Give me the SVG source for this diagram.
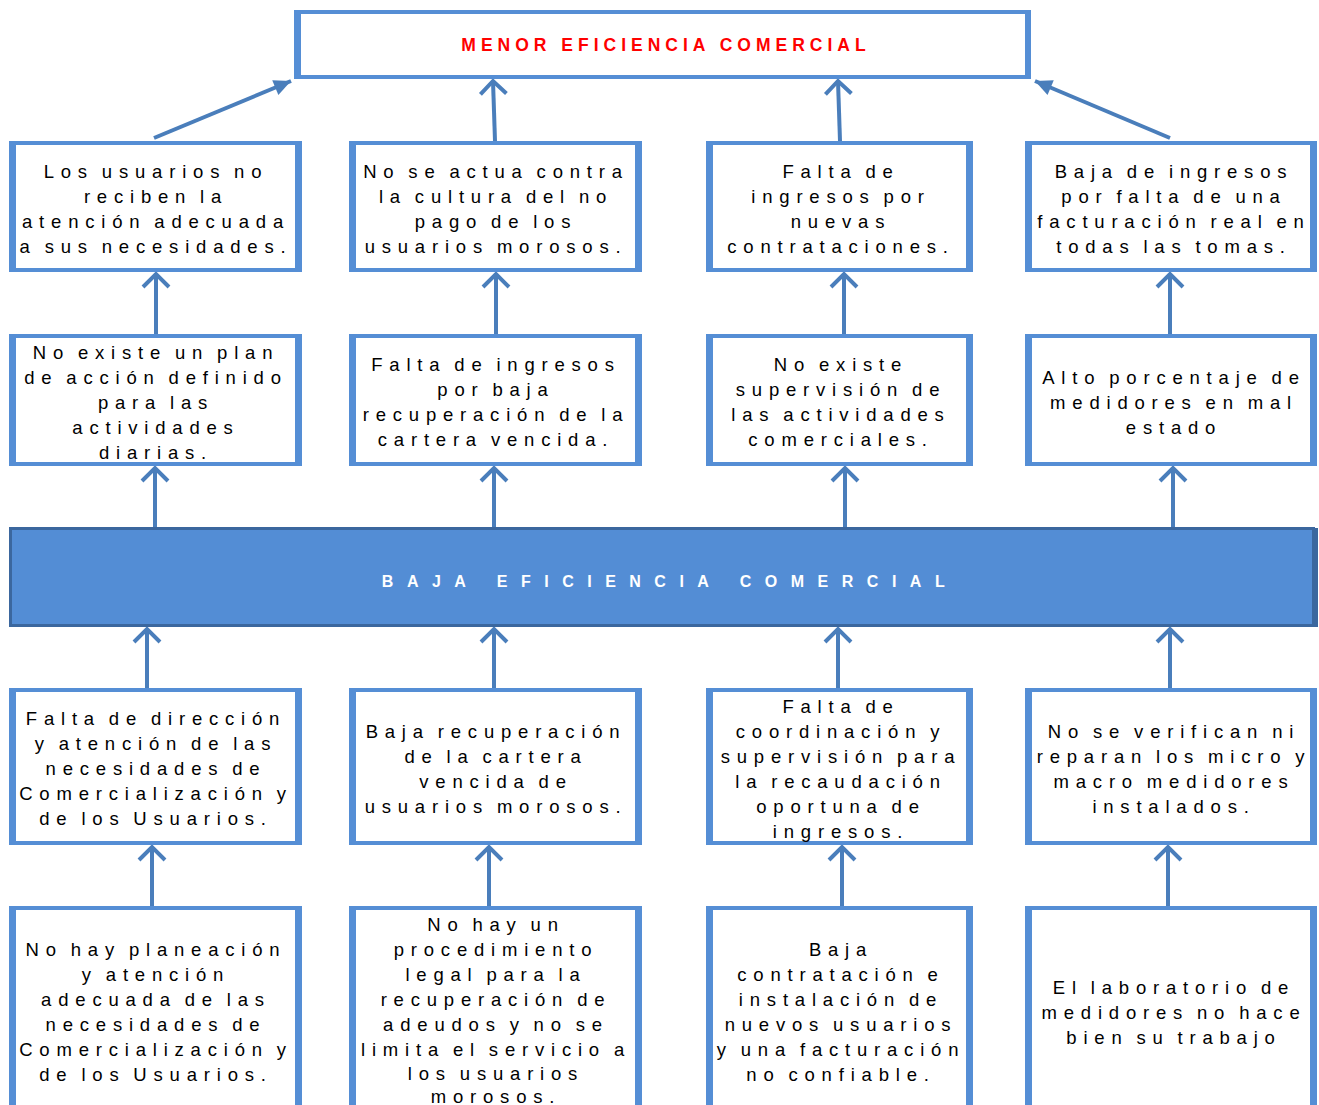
<svg xmlns="http://www.w3.org/2000/svg" width="1319" height="1105" viewBox="0 0 1319 1105">
<style>
.bx{fill:#fff;stroke:#558ed5;stroke-width:4}
.sd{fill:#558ed5}
.t{font-family:"Liberation Sans",Arial,sans-serif;font-size:18.5px;letter-spacing:6.8px;word-spacing:-4px;fill:#000;text-anchor:middle}
.c{stroke:#4a7ebb;stroke-width:4;fill:none}
.o{marker-end:url(#open)}
.f{marker-end:url(#fill)}
</style>
<defs>
<marker id="open" markerUnits="userSpaceOnUse" viewBox="-16 -16 20 32" refX="0" refY="0" markerWidth="20" markerHeight="32" orient="auto" overflow="visible">
<path d="M-13,-13 L0,0 L-13,13" fill="none" stroke="#4a7ebb" stroke-width="4"/>
</marker>
<marker id="fill" markerUnits="userSpaceOnUse" viewBox="-18 -9 20 18" refX="0" refY="0" markerWidth="20" markerHeight="18" orient="auto" overflow="visible">
<path d="M0,0 L-17,-8 L-17,8 Z" fill="#4a7ebb"/>
</marker>
</defs>
<rect width="1319" height="1105" fill="#fff"/>

<g id="connectors">
<path class="c f" d="M154,138 L291,81"/>
<path class="c o" d="M495,141 L493,81"/>
<path class="c o" d="M840,141 L838,81"/>
<path class="c f" d="M1170,138 L1035,81"/>
<path class="c o" d="M156,334 L156,274"/>
<path class="c o" d="M496,334 L496,274"/>
<path class="c o" d="M844,334 L844,274"/>
<path class="c o" d="M1170,334 L1170,274"/>
<path class="c o" d="M155,527 L155,468"/>
<path class="c o" d="M494,527 L494,468"/>
<path class="c o" d="M845,527 L845,468"/>
<path class="c o" d="M1173,527 L1173,468"/>
<path class="c o" d="M147,688 L147,629"/>
<path class="c o" d="M494,688 L494,629"/>
<path class="c o" d="M838,688 L838,629"/>
<path class="c o" d="M1170,688 L1170,629"/>
<path class="c o" d="M152,906 L152,847"/>
<path class="c o" d="M489,906 L489,847"/>
<path class="c o" d="M842,906 L842,847"/>
<path class="c o" d="M1168,906 L1168,847"/>
</g>

<g id="top">
<rect class="bx" x="296" y="12" width="733" height="65"/>
<rect class="sd" x="294" y="10" width="7" height="69"/><rect class="sd" x="1025" y="10" width="6" height="69"/>
<text x="666" y="51" font-family="Liberation Sans, Arial, sans-serif" font-size="17.5" font-weight="bold" letter-spacing="5" fill="#ff0000" text-anchor="middle">MENOR EFICIENCIA COMERCIAL</text>
</g>

<g id="r1c1">
<rect class="bx" x="11" y="143" width="289" height="127"/>
<rect class="sd" x="9" y="141" width="7" height="131"/><rect class="sd" x="295" y="141" width="7" height="131"/>
<text class="t"><tspan x="156" y="178">Los usuarios no</tspan><tspan x="156" y="203">reciben la</tspan><tspan x="156" y="228">atención adecuada</tspan><tspan x="156" y="253">a sus necesidades.</tspan></text>
</g>
<g id="r1c2">
<rect class="bx" x="351" y="143" width="289" height="127"/>
<rect class="sd" x="349" y="141" width="7" height="131"/><rect class="sd" x="635" y="141" width="7" height="131"/>
<text class="t"><tspan x="496" y="178">No se actua contra</tspan><tspan x="496" y="203">la cultura del no</tspan><tspan x="496" y="228">pago de los</tspan><tspan x="496" y="253">usuarios morosos.</tspan></text>
</g>
<g id="r1c3">
<rect class="bx" x="708" y="143" width="263" height="127"/>
<rect class="sd" x="706" y="141" width="7" height="131"/><rect class="sd" x="966" y="141" width="7" height="131"/>
<text class="t"><tspan x="841" y="178">Falta de</tspan><tspan x="841" y="203">ingresos por</tspan><tspan x="841" y="228">nuevas</tspan><tspan x="841" y="253">contrataciones.</tspan></text>
</g>
<g id="r1c4">
<rect class="bx" x="1027" y="143" width="288" height="127"/>
<rect class="sd" x="1025" y="141" width="7" height="131"/><rect class="sd" x="1310" y="141" width="7" height="131"/>
<text class="t"><tspan x="1174" y="178">Baja de ingresos</tspan><tspan x="1174" y="203">por falta de una</tspan><tspan x="1174" y="228">facturación real en</tspan><tspan x="1174" y="253">todas las tomas.</tspan></text>
</g>

<g id="r2c1">
<rect class="bx" x="11" y="336" width="289" height="128"/>
<rect class="sd" x="9" y="334" width="7" height="132"/><rect class="sd" x="295" y="334" width="7" height="132"/>
<text class="t"><tspan x="156" y="359">No existe un plan</tspan><tspan x="156" y="384">de acción definido</tspan><tspan x="156" y="409">para las</tspan><tspan x="156" y="434">actividades</tspan><tspan x="156" y="459">diarias.</tspan></text>
</g>
<g id="r2c2">
<rect class="bx" x="351" y="336" width="289" height="128"/>
<rect class="sd" x="349" y="334" width="7" height="132"/><rect class="sd" x="635" y="334" width="7" height="132"/>
<text class="t"><tspan x="496" y="371">Falta de ingresos</tspan><tspan x="496" y="396">por baja</tspan><tspan x="496" y="421">recuperación de la</tspan><tspan x="496" y="446">cartera vencida.</tspan></text>
</g>
<g id="r2c3">
<rect class="bx" x="708" y="336" width="263" height="128"/>
<rect class="sd" x="706" y="334" width="7" height="132"/><rect class="sd" x="966" y="334" width="7" height="132"/>
<text class="t"><tspan x="841" y="371">No existe</tspan><tspan x="841" y="396">supervisión de</tspan><tspan x="841" y="421">las actividades</tspan><tspan x="841" y="446">comerciales.</tspan></text>
</g>
<g id="r2c4">
<rect class="bx" x="1027" y="336" width="288" height="128"/>
<rect class="sd" x="1025" y="334" width="7" height="132"/><rect class="sd" x="1310" y="334" width="7" height="132"/>
<text class="t"><tspan x="1174" y="384">Alto porcentaje de</tspan><tspan x="1174" y="409">medidores en mal</tspan><tspan x="1174" y="434">estado</tspan></text>
</g>

<g id="bar">
<rect x="10.5" y="528.5" width="1303" height="97" fill="#538dd5" stroke="#3b679e" stroke-width="3"/>
<rect x="1312" y="528" width="6" height="99" fill="#3b679e"/>
<text x="670" y="587" font-family="Liberation Sans, Arial, sans-serif" font-size="16" font-weight="bold" letter-spacing="13.5" fill="#fff" text-anchor="middle">BAJA EFICIENCIA COMERCIAL</text>
</g>

<g id="r3c1">
<rect class="bx" x="11" y="690" width="289" height="153"/>
<rect class="sd" x="9" y="688" width="7" height="157"/><rect class="sd" x="295" y="688" width="7" height="157"/>
<text class="t"><tspan x="156" y="725">Falta de dirección</tspan><tspan x="156" y="750">y atención de las</tspan><tspan x="156" y="775">necesidades de</tspan><tspan x="156" y="800">Comercialización y</tspan><tspan x="156" y="825">de los Usuarios.</tspan></text>
</g>
<g id="r3c2">
<rect class="bx" x="351" y="690" width="289" height="153"/>
<rect class="sd" x="349" y="688" width="7" height="157"/><rect class="sd" x="635" y="688" width="7" height="157"/>
<text class="t"><tspan x="496" y="738">Baja recuperación</tspan><tspan x="496" y="763">de la cartera</tspan><tspan x="496" y="788">vencida de</tspan><tspan x="496" y="813">usuarios morosos.</tspan></text>
</g>
<g id="r3c3">
<rect class="bx" x="708" y="690" width="263" height="153"/>
<rect class="sd" x="706" y="688" width="7" height="157"/><rect class="sd" x="966" y="688" width="7" height="157"/>
<text class="t"><tspan x="841" y="713">Falta de</tspan><tspan x="841" y="738">coordinación y</tspan><tspan x="841" y="763">supervisión para</tspan><tspan x="841" y="788">la recaudación</tspan><tspan x="841" y="813">oportuna de</tspan><tspan x="841" y="838">ingresos.</tspan></text>
</g>
<g id="r3c4">
<rect class="bx" x="1027" y="690" width="288" height="153"/>
<rect class="sd" x="1025" y="688" width="7" height="157"/><rect class="sd" x="1310" y="688" width="7" height="157"/>
<text class="t"><tspan x="1174" y="738">No se verifican ni</tspan><tspan x="1174" y="763">reparan los micro y</tspan><tspan x="1174" y="788">macro medidores</tspan><tspan x="1174" y="813">instalados.</tspan></text>
</g>

<g id="r4c1">
<rect class="bx" x="11" y="908" width="289" height="220"/>
<rect class="sd" x="9" y="906" width="7" height="220"/><rect class="sd" x="295" y="906" width="7" height="220"/>
<text class="t"><tspan x="156" y="956">No hay planeación</tspan><tspan x="156" y="981">y atención</tspan><tspan x="156" y="1006">adecuada de las</tspan><tspan x="156" y="1031">necesidades de</tspan><tspan x="156" y="1056">Comercialización y</tspan><tspan x="156" y="1081">de los Usuarios.</tspan></text>
</g>
<g id="r4c2">
<rect class="bx" x="351" y="908" width="289" height="220"/>
<rect class="sd" x="349" y="906" width="7" height="220"/><rect class="sd" x="635" y="906" width="7" height="220"/>
<text class="t"><tspan x="496" y="931">No hay un</tspan><tspan x="496" y="956">procedimiento</tspan><tspan x="496" y="981">legal para la</tspan><tspan x="496" y="1006">recuperación de</tspan><tspan x="496" y="1031">adeudos y no se</tspan><tspan x="496" y="1056">limita el servicio a</tspan><tspan x="496" y="1080">los usuarios</tspan><tspan x="496" y="1103">morosos.</tspan></text>
</g>
<g id="r4c3">
<rect class="bx" x="708" y="908" width="263" height="220"/>
<rect class="sd" x="706" y="906" width="7" height="220"/><rect class="sd" x="966" y="906" width="7" height="220"/>
<text class="t"><tspan x="841" y="956">Baja</tspan><tspan x="841" y="981">contratación e</tspan><tspan x="841" y="1006">instalación de</tspan><tspan x="841" y="1031">nuevos usuarios</tspan><tspan x="841" y="1056">y una facturación</tspan><tspan x="841" y="1081">no confiable.</tspan></text>
</g>
<g id="r4c4">
<rect class="bx" x="1027" y="908" width="288" height="220"/>
<rect class="sd" x="1025" y="906" width="7" height="220"/><rect class="sd" x="1310" y="906" width="7" height="220"/>
<text class="t"><tspan x="1174" y="994">El laboratorio de</tspan><tspan x="1174" y="1019">medidores no hace</tspan><tspan x="1174" y="1044">bien su trabajo</tspan></text>
</g>
</svg>
